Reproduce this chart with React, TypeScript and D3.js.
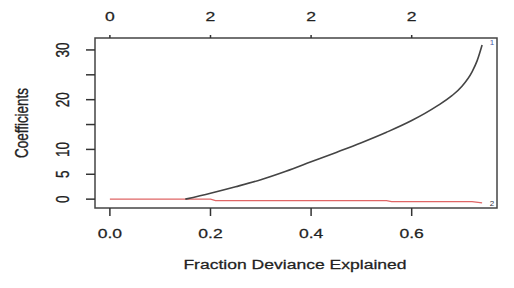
import React from "react";
import * as d3 from "d3";

const fracX = [0.15, 0.2, 0.25, 0.3, 0.35, 0.4, 0.45, 0.5, 0.55, 0.6, 0.65, 0.68, 0.7, 0.72, 0.73, 0.74];
const coef1 = [0, 1.2, 2.5, 3.9, 5.6, 7.5, 9.4, 11.35, 13.45, 15.8, 18.7, 20.8, 22.7, 25.6, 27.8, 31.0];
const redX = [0, 0.2, 0.21, 0.55, 0.56, 0.72, 0.74];
const coef2 = [0, 0, -0.3, -0.3, -0.5, -0.5, -0.75];
const xTicks = [0, 0.2, 0.4, 0.6];
const xTickLabels = ["0.0", "0.2", "0.4", "0.6"];
const topLabels = ["0", "2", "2", "2"];
const yTicks = [0, 5, 10, 15, 20, 25, 30];
const yLabeled = [0, 5, 10, 20, 30];

const W = 514, H = 288;
const L = 95, R = 497, T = 38, B = 208;
const SX = 1.3;
const FONT = "'Liberation Sans', Arial, sans-serif";
const TC = "#222";

export default function App() {
  const x = d3.scaleLinear().domain([-0.0296, 0.7696]).range([L, R]);
  const y = d3.scaleLinear().domain([-1.78, 32.4]).range([B, T]);
  const p1 = d3.line<[number, number]>().x(d => x(d[0])).y(d => y(d[1])).curve(d3.curveMonotoneX)(fracX.map((v, i) => [v, coef1[i]] as [number, number]))!;
  const p2 = d3.line<[number, number]>().x(d => x(d[0])).y(d => y(d[1]))(redX.map((v, i) => [v, coef2[i]] as [number, number]))!;
  const txt = (s: string, tx: number, ty: number, rot = false, size = 13.5) => (
    <g transform={`translate(${tx},${ty}) scale(${SX},1)${rot ? " rotate(-90)" : ""}`}>
      <text textAnchor="middle" dominantBaseline="central" fontFamily={FONT} fontSize={size} fill={TC} stroke={TC} strokeWidth={0.25}>{s}</text>
    </g>
  );
  return (
    <svg width={W} height={H} style={{ position: "absolute", left: 0, top: 0, background: "#fff" }}>
      <rect x={0} y={0} width={W} height={H} fill="#fff" />
      <rect x={L} y={T} width={R - L} height={B - T} fill="none" stroke="#444" strokeWidth={1.5} />
      {xTicks.map((t, i) => (
        <g key={"xb" + i}>
          <line x1={x(t)} x2={x(t)} y1={B} y2={B + 8} stroke="#333" strokeWidth={1.5} />
          {txt(xTickLabels[i], x(t), 233)}
          <line x1={x(t)} x2={x(t)} y1={T} y2={T - 3} stroke="#333" strokeWidth={1.5} />
          {txt(topLabels[i], x(t), 16)}
        </g>
      ))}
      {yTicks.map((t, i) => (
        <g key={"y" + i}>
          <line x1={L} x2={L - 9} y1={y(t)} y2={y(t)} stroke="#333" strokeWidth={1.5} />
          {yLabeled.includes(t) ? txt(String(t), 63, y(t), true) : null}
        </g>
      ))}
      <path d={p2} fill="none" stroke="#e06666" strokeWidth={1.2} />
      <path d={p1} fill="none" stroke="#444" strokeWidth={1.6} />
      <text x={492} y={y(31.4)} fontSize={8} fontFamily={FONT} fill="#4a5aa8" textAnchor="middle" dominantBaseline="central">1</text>
      <text x={492} y={y(-0.9)} fontSize={8} fontFamily={FONT} fill="#334" textAnchor="middle" dominantBaseline="central">2</text>
      {txt("Fraction Deviance Explained", 295, 264)}
      {txt("Coefficients", 22, 123, true)}
    </svg>
  );
}
